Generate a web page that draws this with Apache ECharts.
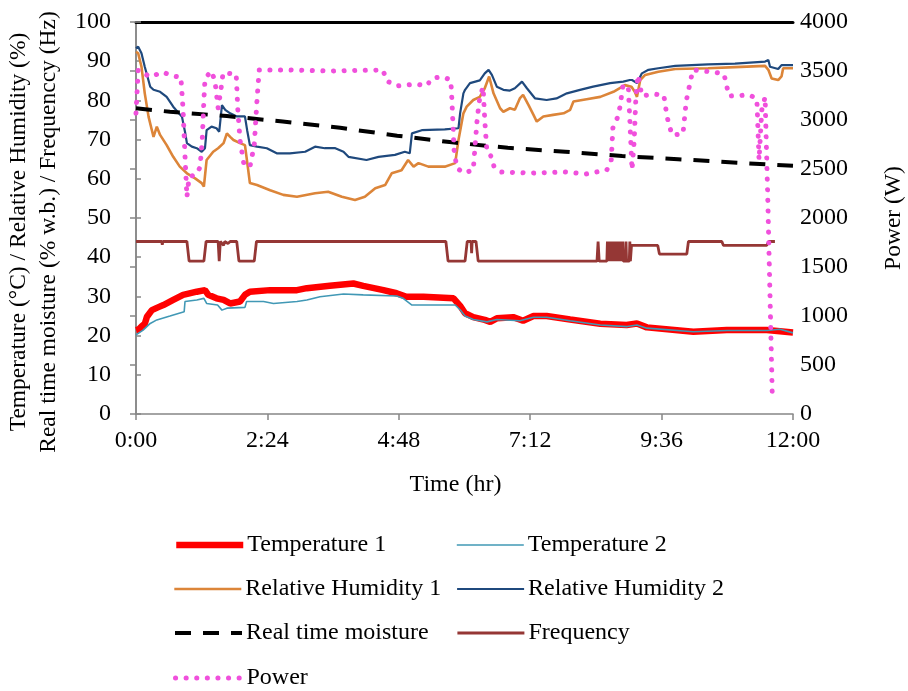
<!DOCTYPE html>
<html>
<head>
<meta charset="utf-8">
<script src="https://cdn.jsdelivr.net/npm/echarts@6.0.0/dist/echarts.min.js"></script>
<style>
  html, body { margin: 0; padding: 0; background: #fff; }
  #chart { width: 908px; height: 691px; }
</style>
</head>
<body>
<div id="chart"></div>
<script>
// time in hours
const temp1 = [[0,21.4],[0.05,21.6],[0.10,22.3],[0.16,23.0],[0.20,24.8],[0.29,26.5],[0.40,27.2],[0.50,27.8],[0.68,29.1],[0.86,30.4],[1.11,31.2],[1.26,31.6],[1.32,30.4],[1.47,29.5],[1.60,29.1],[1.72,28.2],[1.90,28.7],[1.99,30.4],[2.08,31.2],[2.45,31.6],[2.94,31.6],[3.12,32.1],[3.54,32.7],[3.97,33.3],[4.15,32.7],[4.52,31.6],[4.76,30.8],[4.94,29.9],[5.25,29.9],[5.80,29.5],[5.92,27.6],[6.01,25.7],[6.16,24.7],[6.37,24.0],[6.47,23.5],[6.59,24.4],[6.89,24.7],[7.07,23.8],[7.26,25.0],[7.50,25.0],[7.93,24.1],[8.48,23.0],[8.96,22.7],[9.15,23.1],[9.33,22.1],[10.18,21.0],[10.79,21.4],[11.52,21.4],[12,20.8]];
const temp2 = [[0,20.2],[0.13,21.4],[0.26,23.1],[0.38,24.0],[0.62,25.0],[0.88,26.1],[0.895,28.7],[1.11,29.1],[1.24,29.5],[1.29,28.2],[1.49,27.8],[1.57,26.5],[1.66,27.0],[1.99,27.2],[2.02,28.7],[2.33,28.7],[2.51,28.2],[2.94,28.7],[3.12,29.1],[3.36,29.9],[3.79,30.6],[4.15,30.4],[4.76,30.1],[4.88,29.5],[5.04,27.8],[5.37,27.8],[5.83,27.8],[5.92,26.6],[6.01,25.0],[6.16,24.1],[6.41,23.5],[6.59,24.1],[7.01,23.8],[7.26,24.7],[7.50,24.7],[7.93,23.8],[8.48,22.7],[8.97,22.3],[9.15,22.7],[9.33,21.9],[10.18,21.0],[10.80,21.3],[11.53,21.3],[11.76,21.6],[12,20.7]];
const rh1 = [[0,92.4],[0.04,92.0],[0.10,88.6],[0.16,81.8],[0.23,75.8],[0.29,72.4],[0.32,70.7],[0.38,73.3],[0.44,71.2],[0.56,68.6],[0.68,65.6],[0.80,63.1],[0.93,61.4],[1.08,60.1],[1.20,58.9],[1.24,58.0],[1.29,64.8],[1.41,66.9],[1.50,67.8],[1.60,69.1],[1.66,71.6],[1.72,70.7],[1.78,69.9],[1.90,69.1],[1.99,68.6],[2.05,62.2],[2.08,58.9],[2.21,58.4],[2.45,57.1],[2.69,55.9],[2.94,55.4],[3.27,56.3],[3.51,56.7],[3.76,55.4],[4.00,54.6],[4.18,55.4],[4.37,57.6],[4.55,58.4],[4.67,61.4],[4.85,62.2],[4.97,64.8],[5.07,63.1],[5.16,64.0],[5.34,63.1],[5.64,63.1],[5.83,64.0],[5.89,69.9],[5.98,76.7],[6.04,78.4],[6.16,80.1],[6.28,80.9],[6.37,83.1],[6.45,86.1],[6.53,81.8],[6.65,78.0],[6.71,77.1],[6.83,78.0],[6.92,77.6],[7.01,80.5],[7.07,81.4],[7.17,78.8],[7.26,76.3],[7.32,74.6],[7.44,75.9],[7.62,76.3],[7.81,76.7],[7.93,77.6],[7.99,79.7],[8.23,80.3],[8.48,80.9],[8.72,82.2],[8.93,83.9],[9.05,83.5],[9.11,82.2],[9.15,80.9],[9.21,85.2],[9.30,86.5],[9.54,87.3],[9.85,88.0],[10.45,88.2],[10.94,88.5],[11.49,88.8],[11.55,87.8],[11.61,85.6],[11.73,85.2],[11.79,86.1],[11.82,88.2],[12,88.2]];
const rh2 = [[0,93.3],[0.04,93.7],[0.10,92.0],[0.16,88.6],[0.26,83.5],[0.32,82.7],[0.44,82.2],[0.56,80.9],[0.68,78.4],[0.84,75.8],[0.90,71.6],[0.93,69.1],[1.02,68.2],[1.11,67.8],[1.20,66.9],[1.26,67.8],[1.29,72.4],[1.38,73.3],[1.47,72.9],[1.52,72.0],[1.57,78.8],[1.63,77.6],[1.72,76.7],[1.84,75.9],[1.99,75.9],[2.03,72.4],[2.08,68.6],[2.21,68.2],[2.39,67.8],[2.57,66.5],[2.81,66.5],[3.09,66.9],[3.27,68.2],[3.45,67.8],[3.64,67.8],[3.79,66.9],[3.88,65.6],[4.21,64.8],[4.43,65.6],[4.73,66.1],[4.91,66.9],[5.00,66.5],[5.04,71.6],[5.22,72.4],[5.64,72.6],[5.89,72.9],[5.92,76.7],[5.98,81.8],[6.01,82.7],[6.10,84.4],[6.28,85.1],[6.37,86.9],[6.44,87.8],[6.50,86.5],[6.59,83.5],[6.71,82.7],[6.83,82.5],[6.92,83.1],[7.05,84.8],[7.14,83.1],[7.29,80.5],[7.50,80.1],[7.68,80.5],[7.87,81.8],[8.11,82.7],[8.35,83.5],[8.66,84.4],[8.90,84.8],[9.02,85.2],[9.06,85.2],[9.15,84.4],[9.24,86.9],[9.36,87.8],[9.54,88.2],[9.85,88.8],[10.45,89.2],[10.94,89.4],[11.49,89.9],[11.55,90.3],[11.58,88.6],[11.73,88.0],[11.79,89.0],[12,89.0]];
const moisture = [[0,78.0],[0.62,77.1],[1.66,76.0],[2.68,74.6],[3.73,73.0],[4.77,71.0],[5.77,69.3],[6.79,67.9],[7.84,66.9],[8.88,65.8],[9.90,65.0],[10.98,64.1],[12,63.3]];
const frequency = [[0,44],[0.47,44],[0.48,43.2],[0.49,44],[0.93,44],[0.97,39],[1.24,39],[1.28,44],[1.50,44],[1.52,39],[1.54,44],[1.60,43],[1.62,44],[1.68,43.5],[1.72,44],[1.84,44],[1.88,39],[2.16,39],[2.20,44],[5.66,44],[5.70,39],[6.01,39],[6.05,44],[6.12,44],[6.13,41],[6.14,44],[6.21,44],[6.25,39],[8.42,39],[8.44,44],[8.46,39],[8.60,39],[8.61,44],[8.62,39],[8.63,44],[8.64,39],[8.65,44],[8.66,39],[8.67,44],[8.68,39],[8.69,44],[8.70,39],[8.71,44],[8.72,39],[8.73,44],[8.74,39],[8.75,44],[8.76,39],[8.77,44],[8.78,39],[8.79,44],[8.80,39],[8.81,44],[8.82,39],[8.83,44],[8.84,39],[8.85,44],[8.86,39],[8.87,44],[8.88,39],[8.89,44],[8.90,39],[8.94,39],[8.95,44],[8.96,39],[9.01,39],[9.02,44],[9.03,39],[9.05,43],[9.53,43],[9.56,40.8],[10.06,40.8],[10.09,44],[10.70,44],[10.73,43],[11.52,43],[11.56,44],[11.67,44]];
const power = [[0,3071],[0.04,3510],[0.26,3439],[0.49,3490],[0.66,3449],[0.82,3439],[0.86,3102],[0.89,2694],[0.93,2214],[0.97,2418],[1.11,2449],[1.17,2520],[1.21,2796],[1.24,3204],[1.26,3418],[1.37,3500],[1.44,3408],[1.50,3122],[1.55,3306],[1.59,3480],[1.83,3469],[1.86,3102],[1.90,2796],[1.97,2551],[2.08,2520],[2.16,2745],[2.21,3204],[2.25,3510],[2.81,3510],[3.54,3500],[4.51,3510],[4.58,3398],[4.77,3347],[5.11,3367],[5.30,3347],[5.42,3429],[5.61,3439],[5.75,3408],[5.77,3204],[5.81,2694],[5.86,2510],[5.99,2459],[6.16,2490],[6.19,2714],[6.23,3000],[6.28,3235],[6.34,3337],[6.37,3000],[6.41,2673],[6.50,2622],[6.54,2520],[6.67,2469],[7.25,2459],[7.84,2469],[8.22,2449],[8.60,2490],[8.68,2592],[8.71,2918],[8.79,3020],[8.84,3133],[8.89,3337],[8.99,3357],[9.02,3000],[9.06,2490],[9.10,2796],[9.13,3235],[9.17,3459],[9.24,3245],[9.44,3265],[9.64,3255],[9.70,3031],[9.79,2847],[9.99,2857],[10.05,3194],[10.17,3510],[10.54,3490],[10.74,3469],[10.83,3245],[11.21,3255],[11.34,3214],[11.38,2592],[11.43,3102],[11.49,3235],[11.54,2184],[11.62,224]];

const leftTicks = { min: 0, max: 100, interval: 10 };
const rightTicks = { min: 0, max: 4000, interval: 500 };

const font = 'Liberation Serif';
const axisGray = '#868686';

function hm(v) {
  let m = Math.round(v * 60);
  let mm = m % 60;
  return Math.floor(m / 60) + ':' + (mm < 10 ? '0' + mm : mm);
}

function line(name, data, color, width, type, yIdx, cap) {
  return {
    name: name,
    type: 'line',
    data: data,
    yAxisIndex: yIdx || 0,
    showSymbol: false,
    symbol: 'none',
    animation: false,
    lineStyle: { color: color, width: width, type: type || 'solid', cap: cap || 'butt' },
    itemStyle: { color: color }
  };
}

// one legend per entry so the two columns line up like the original
const legendSpots = [
  ['Temperature 1', 173, 545], ['Temperature 2', 456, 545],
  ['Relative Humidity 1', 173, 589], ['Relative Humidity 2', 456, 589],
  ['Real time moisture', 173, 633], ['Frequency', 456, 633],
  ['Power', 173, 678]
];
let legends = legendSpots.map(function (s) {
  return {
    left: s[1], top: s[2] - 12, padding: 0,
    itemWidth: 67, itemHeight: 24,
    itemStyle: { opacity: 0 },
    lineStyle: { width: 'inherit', type: 'inherit', cap: 'inherit' },
    textStyle: { fontFamily: font, fontSize: 24, color: '#000', padding: [0, 0, 0, -1] },
    data: [s[0]]
  };
});

let chart = echarts.init(document.getElementById('chart'));
chart.setOption({
  backgroundColor: '#fff',
  animation: false,
  textStyle: { fontFamily: font, color: '#000' },
  grid: { left: 136, right: 115, top: 22, bottom: 277, outerBoundsMode: 'none', containLabel: false },
  legend: legends,
  xAxis: [{
    type: 'value', min: 0, max: 12, interval: 2.4,
    name: 'Time (hr)', nameLocation: 'middle', nameGap: 59,
    nameTextStyle: { fontFamily: font, fontSize: 24, color: '#000', padding: [0, 18, 0, 0] },
    axisLine: { lineStyle: { color: axisGray, width: 1.5 } },
    axisTick: { inside: false, length: 6, lineStyle: { color: axisGray, width: 1.5 } },
    axisLabel: { formatter: hm, fontSize: 24, color: '#000', margin: 15, fontFamily: font },
    splitLine: { show: false }
  }, {
    type: 'value', min: 0, max: 12, position: 'top',
    axisLine: { onZero: false, lineStyle: { color: '#000', width: 3 } },
    axisTick: { show: false }, axisLabel: { show: false }, splitLine: { show: false }
  }],
  yAxis: [{
    type: 'value', min: leftTicks.min, max: leftTicks.max, interval: leftTicks.interval,
    name: 'Temperature (°C) / Relative Humidity (%)\nReal time moisture (% w.b.) / Frequenccy (Hz)',
    nameLocation: 'middle', nameGap: 69, nameRotate: 90,
    nameTextStyle: { fontFamily: font, fontSize: 23.5, color: '#000', lineHeight: 30, padding: [0, 28, 0, 0] },
    axisLine: { show: true, lineStyle: { color: axisGray, width: 1.5 } },
    axisTick: { show: true, inside: true, length: 5, lineStyle: { color: axisGray, width: 1.5 } },
    axisLabel: { fontSize: 24, color: '#000', margin: 25, fontFamily: font },
    splitLine: { show: false }
  }, {
    type: 'value', min: rightTicks.min, max: rightTicks.max, interval: rightTicks.interval,
    position: 'right',
    name: 'Power (W)', nameLocation: 'middle', nameGap: 89, nameRotate: 90,
    nameTextStyle: { fontFamily: font, fontSize: 23.5, color: '#000' },
    axisLine: { show: true, lineStyle: { color: axisGray, width: 1.5 } },
    axisTick: { show: true, inside: true, length: 6, lineStyle: { color: axisGray, width: 1.5 } },
    axisLabel: { fontSize: 24, color: '#000', margin: 7, fontFamily: font, formatter: function (v) { return String(v); } },
    splitLine: { show: false }
  }],
  series: [
    line('Temperature 1', temp1, '#FF0000', 6.5),
    line('Temperature 2', temp2, '#4198B5', 1.6),
    line('Relative Humidity 1', rh1, '#DC8539', 2.6),
    line('Relative Humidity 2', rh2, '#1F497D', 2.2),
    line('Real time moisture', moisture, '#000000', 4, [16, 12]),
    line('Frequency', frequency, '#953735', 2.8),
    line('Power', power, '#F050DC', 5, [0.1, 10.5], 1, 'round')
  ]
});
</script>
</body>
</html>
